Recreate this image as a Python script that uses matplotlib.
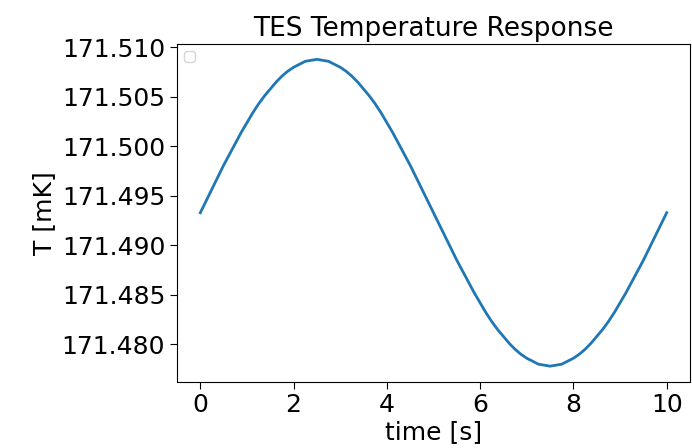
import matplotlib
matplotlib.use("Agg")
import matplotlib.pyplot as plt
from matplotlib.ticker import FormatStrFormatter

time_s = [i * 0.125 for i in range(81)]
temp_mK = [171.4933, 171.4945, 171.4957, 171.4969, 171.4981, 171.4992, 171.5003, 171.5014,
           171.5024, 171.5034, 171.5043, 171.5051, 171.5058, 171.5065, 171.5071, 171.5076,
           171.5080, 171.5083, 171.5086, 171.5087, 171.5088, 171.5087, 171.5086, 171.5083,
           171.5080, 171.5076, 171.5071, 171.5065, 171.5058, 171.5051, 171.5043, 171.5034,
           171.5024, 171.5014, 171.5003, 171.4992, 171.4981, 171.4969, 171.4957, 171.4945,
           171.4933, 171.4921, 171.4909, 171.4897, 171.4885, 171.4874, 171.4863, 171.4852,
           171.4842, 171.4832, 171.4823, 171.4815, 171.4808, 171.4801, 171.4795, 171.4790,
           171.4786, 171.4783, 171.4780, 171.4779, 171.4778, 171.4779, 171.4780, 171.4783,
           171.4786, 171.4790, 171.4795, 171.4801, 171.4808, 171.4815, 171.4823, 171.4832,
           171.4842, 171.4852, 171.4863, 171.4874, 171.4885, 171.4897, 171.4909, 171.4921,
           171.4933]
xticks = [0, 2, 4, 6, 8, 10]
yticks = [171.480, 171.485, 171.490, 171.495, 171.500, 171.505, 171.510]

fig = plt.figure(figsize=(6.92, 4.48), dpi=100)
ax = fig.add_axes([177/692, 1 - 381.5/448, (690 - 177)/692, (381.5 - 44)/448])
ax.plot(time_s, temp_mK, color="#1f77b4", linewidth=2)
ax.set_xticks(xticks)
ax.set_yticks(yticks)
ax.yaxis.set_major_formatter(FormatStrFormatter('%.3f'))
ax.tick_params(labelsize=18, length=5)
ax.set_xlabel("time [s]", fontsize=18, labelpad=2)
ax.set_ylabel("T [mK]", fontsize=18)
ax.set_title("TES Temperature Response", fontsize=19)
ax.legend(handles=[], loc="upper left")
fig.savefig("out.png", dpi=100)
